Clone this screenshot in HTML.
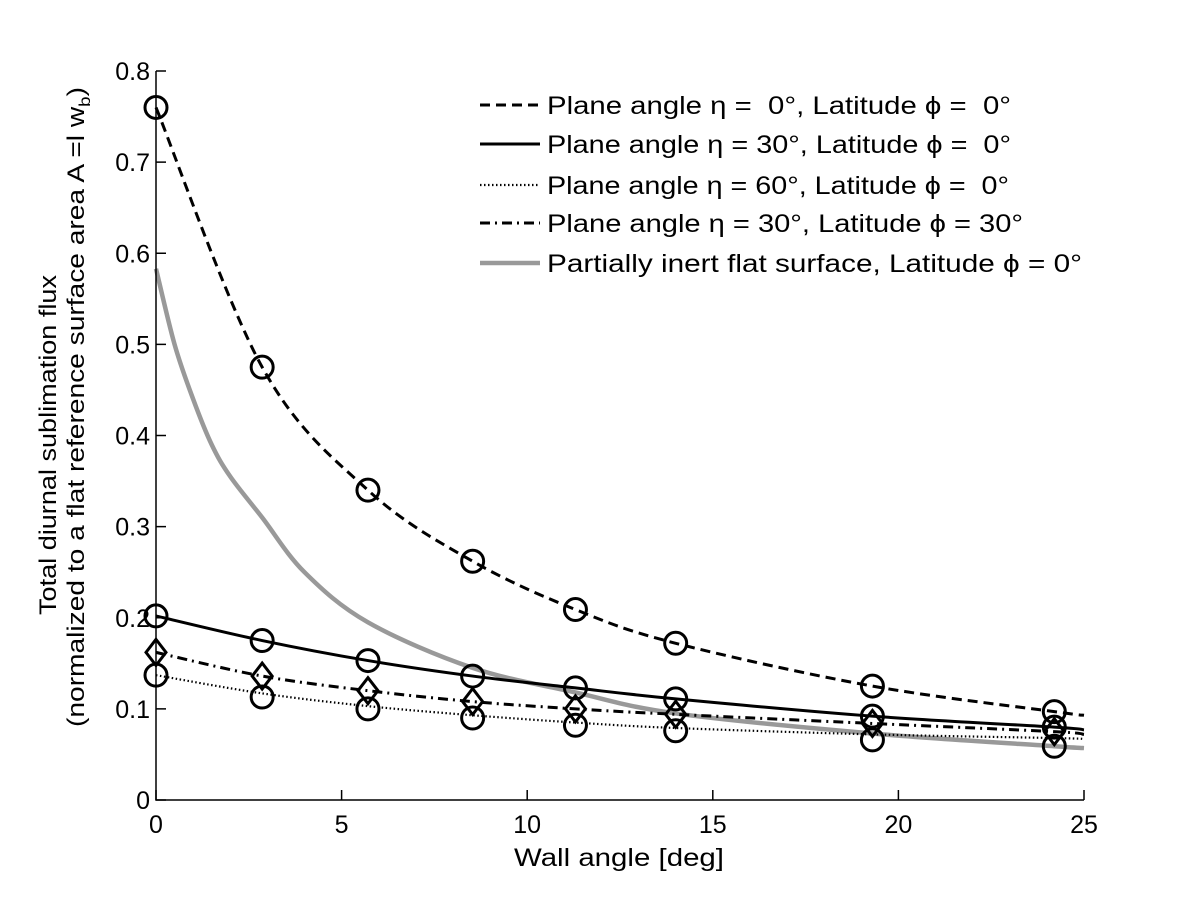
<!DOCTYPE html>
<html><head><meta charset="utf-8"><style>
body{margin:0;background:#fff}
svg{font-family:"Liberation Sans",sans-serif}
</style></head><body>
<svg id="chart" width="1200" height="900" viewBox="0 0 1200 900" xmlns="http://www.w3.org/2000/svg">
<rect width="1200" height="900" fill="#fff"/>
<g id="plot"></g>
<g id="axes"></g>
<text x="619" y="866" font-size="25" text-anchor="middle" textLength="210" lengthAdjust="spacingAndGlyphs">Wall angle [deg]</text>
<g transform="translate(0,445) rotate(-90)" font-size="24" text-anchor="middle">
<text x="0" y="56" textLength="340" lengthAdjust="spacingAndGlyphs">Total diurnal sublimation flux</text>
<text x="38" y="84" textLength="640" lengthAdjust="spacingAndGlyphs">(normalized to a flat reference surface area A =l w<tspan font-size="16" dy="6">b</tspan><tspan dy="-6">)</tspan></text>
</g>
<g id="legend" font-size="25"></g>
</svg>
<script>
const markerX = [0, 2.86, 5.71, 8.53, 11.3, 14.0, 19.3, 24.2];
const lineX = [0, 2.86, 5.71, 8.53, 11.3, 14.0, 19.3, 24.2, 25];
const dashedVals = [0.76, 0.475, 0.34, 0.262, 0.209, 0.172, 0.125, 0.097, 0.093];
const solidVals = [0.202, 0.175, 0.153, 0.136, 0.123, 0.111, 0.092, 0.080, 0.077];
const dottedVals = [0.137, 0.117, 0.103, 0.093, 0.085, 0.079, 0.072, 0.068, 0.067];
const dottedMarkers = [0.137, 0.113, 0.100, 0.090, 0.082, 0.076, 0.066, 0.059];
const dashDotVals = [0.162, 0.136, 0.120, 0.108, 0.100, 0.094, 0.084, 0.075, 0.072];
const grayX = [0, 0.5, 1, 1.5, 2, 2.86, 4, 5.71, 8.53, 11.3, 14.0, 19.3, 24.2, 25];
const grayVals = [0.583, 0.50, 0.44, 0.39, 0.355, 0.31, 0.25, 0.195, 0.145, 0.118, 0.095, 0.073, 0.059, 0.057];
const xTicks = [0, 5, 10, 15, 20, 25];
const yTicks = [0, 0.1, 0.2, 0.3, 0.4, 0.5, 0.6, 0.7, 0.8];
const legendLabels = ["Plane angle \u03b7 =  0\u00b0, Latitude \u03d5 =  0\u00b0","Plane angle \u03b7 = 30\u00b0, Latitude \u03d5 =  0\u00b0","Plane angle \u03b7 = 60\u00b0, Latitude \u03d5 =  0\u00b0","Plane angle \u03b7 = 30\u00b0, Latitude \u03d5 = 30\u00b0","Partially inert flat surface, Latitude \u03d5 = 0\u00b0"];

const X0=156,X1=1084,Y0=800,Y1=71;
const sx=v=>X0+(v-0)/25*(X1-X0);
const sy=v=>Y0-(v/0.8)*(Y0-Y1);
const NS="http://www.w3.org/2000/svg";
function mk(tag,attrs,parent){const e=document.createElementNS(NS,tag);for(const k in attrs)e.setAttribute(k,attrs[k]);parent.appendChild(e);return e;}
const plot=document.getElementById('plot'),axes=document.getElementById('axes'),legend=document.getElementById('legend');
function smooth(xs,ys){const p=xs.map((x,i)=>[sx(x),sy(ys[i])]);let d=`M${p[0][0]},${p[0][1]}`;
for(let i=0;i<p.length-1;i++){const a=p[Math.max(0,i-1)],b=p[i],c=p[i+1],e=p[Math.min(p.length-1,i+2)];
const c1=[b[0]+(c[0]-a[0])/6,b[1]+(c[1]-a[1])/6],c2=[c[0]-(e[0]-b[0])/6,c[1]-(e[1]-b[1])/6];
d+=`C${c1[0]},${c1[1]} ${c2[0]},${c2[1]} ${c[0]},${c[1]}`;}return d;}
const styles={dashed:{stroke:'#000',w:3,dash:'10,6'},solid:{stroke:'#000',w:3,dash:''},dotted:{stroke:'#000',w:2.2,dash:'1.5,2.5'},dashdot:{stroke:'#000',w:3,dash:'10,5,2,5'},gray:{stroke:'#999',w:4.5,dash:''}};
function series(name,xs,ys,st){const s=styles[st];const p=mk('path',{d:smooth(xs,ys),fill:'none',stroke:s.stroke,'stroke-width':s.w,'stroke-dasharray':s.dash},plot);

}
series('line-gray-inert',grayX,grayVals,'gray');
series('line-eta0-phi0',lineX,dashedVals,'dashed');
series('line-eta30-phi0',lineX,solidVals,'solid');
series('line-eta60-phi0',lineX,dottedVals,'dotted');
series('line-eta30-phi30',lineX,dashDotVals,'dashdot');
function circles(name,vals){markerX.forEach((mx,i)=>{const c=mk('circle',{cx:sx(mx),cy:sy(vals[i]),r:11,fill:'none',stroke:'#000','stroke-width':3},plot);

});}
circles('eta0-phi0',dashedVals);
circles('eta30-phi0',solidVals);
circles('eta60-phi0',dottedMarkers);
markerX.forEach((mx,i)=>{const x=sx(mx),y=sy(dashDotVals[i]);
const d=mk('polygon',{points:`${x},${y-13} ${x+10},${y} ${x},${y+13} ${x-10},${y}`,fill:'none',stroke:'#000','stroke-width':3},plot);

});
mk('path',{d:`M${X0},${Y1}V${Y0}H${X1}`,fill:'none',stroke:'#000','stroke-width':1.5},axes);
xTicks.forEach(t=>{const x=sx(t);mk('line',{x1:x,x2:x,y1:Y0,y2:Y0-10,stroke:'#000','stroke-width':1.5},axes);
const tx=mk('text',{x:x,y:Y0+33,'font-size':25,'text-anchor':'middle'},axes);tx.textContent=t;

});
yTicks.forEach(t=>{const y=sy(t);mk('line',{x1:X0,x2:X0+10,y1:y,y2:y,stroke:'#000','stroke-width':1.5},axes);
const tx=mk('text',{x:X0-6,y:y+9,'font-size':25,'text-anchor':'end'},axes);tx.textContent=t===0?'0':t.toFixed(1);

});
const legStyles=['dashed','solid','dotted','dashdot','gray'];const legY=[105,144,185,223,263];const legLen=[464,464,462,476,535];
legendLabels.forEach((lab,i)=>{const s=styles[legStyles[i]];const g=mk('g',{},legend);


mk('line',{x1:480,x2:540,y1:legY[i],y2:legY[i],stroke:s.stroke,'stroke-width':s.w,'stroke-dasharray':s.dash},g);
const t=mk('text',{x:547,y:legY[i]+9,textLength:legLen[i],lengthAdjust:'spacingAndGlyphs','xml:space':'preserve'},g);t.textContent=lab;t.style.whiteSpace='pre';});
</script>
</body></html>
